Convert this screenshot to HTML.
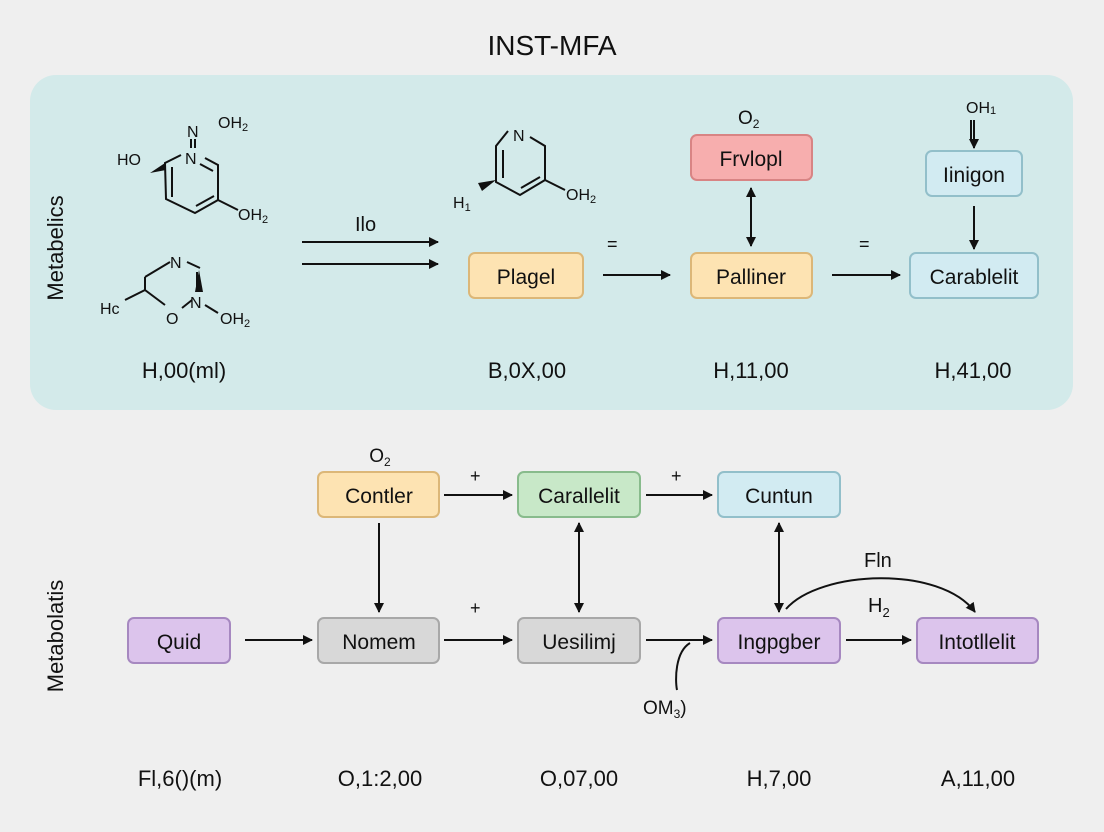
<!DOCTYPE html>
<html><head><meta charset="utf-8"><style>
body{margin:0;background:#efefef;}
svg{display:block;font-family:"Liberation Sans",sans-serif;}
</style></head><body>
<svg width="1104" height="832" viewBox="0 0 1104 832" xmlns="http://www.w3.org/2000/svg">
<defs>
<marker id="a" viewBox="0 0 10 10" refX="9" refY="5" markerWidth="5" markerHeight="5" orient="auto-start-reverse"><path d="M0,0L10,5L0,10z" fill="#111"/></marker>
</defs>
<rect width="1104" height="832" fill="#efefef"/>
<text x="552" y="55" font-size="28" text-anchor="middle" fill="#111">INST-MFA</text>
<rect x="30" y="75" width="1043" height="335" rx="26" fill="#d3eaea"/>
<text transform="translate(63,248) rotate(-90)" font-size="22" text-anchor="middle" fill="#111">Metabelics</text>
<text transform="translate(63,636) rotate(-90)" font-size="22" text-anchor="middle" fill="#111">Metabolatis</text>
<g stroke="#111" stroke-width="2" fill="none">
<path d="M205,158 L218,165 L218,200 L195,213 L166,199 L165,163 L181,155"/>
<path d="M172,167 L172,197 M196,206 L214,196 M200,164 L213,171"/>
<path d="M191,139 L191,148 M195,139 L195,148"/>
<path d="M218,200 L238,210"/>
<path d="M145,277 L170,262 M187,262 L200,268 M197,272 L197,290 M192,300 L182,308 M165,305 L145,290 L145,277 M145,290 L125,300 M205,305 L218,313"/>
<path d="M508,131 L496,146 L496,182 L520,195 L545,180 L545,146 L530,137"/>
<path d="M503,150 L503,178 M521,188 L540,177 M545,180 L565,190"/>
</g>
<path d="M478,183 L496,180 L482,191 Z" fill="#111"/>
<path d="M150,173 L165,163 L166,170 Z" fill="#111"/>
<path d="M199,270 L203,292 L195,292 Z" fill="#111"/>
<g font-size="16" fill="#111">
<text x="187" y="137">N</text><text x="218" y="128">OH<tspan font-size="11" dy="3">2</tspan></text>
<text x="117" y="165">HO</text><text x="185" y="164">N</text>
<text x="238" y="220">OH<tspan font-size="11" dy="3">2</tspan></text>
<text x="170" y="268">N</text><text x="100" y="314">Hc</text><text x="166" y="324">O</text><text x="190" y="308">N</text><text x="220" y="324">OH<tspan font-size="11" dy="3">2</tspan></text>
<text x="513" y="141">N</text><text x="453" y="208">H<tspan font-size="11" dy="3">1</tspan></text><text x="566" y="200">OH<tspan font-size="11" dy="3">2</tspan></text>
<text x="738" y="124" font-size="19">O<tspan font-size="12" dy="4">2</tspan></text>
<text x="966" y="113">OH<tspan font-size="11" dy="1">1</tspan></text>
<text x="380" y="462" font-size="19" text-anchor="middle">O<tspan font-size="12" dy="4">2</tspan></text>
<text x="355" y="231" font-size="20">Ilo</text>
<text x="607" y="250" font-size="18">=</text><text x="859" y="250" font-size="18">=</text>
<text x="470" y="482" font-size="18">+</text><text x="671" y="482" font-size="18">+</text><text x="470" y="614" font-size="18">+</text>
<text x="864" y="567" font-size="20">Fln</text>
<text x="868" y="612" font-size="20">H<tspan font-size="13" dy="5">2</tspan></text>
<text x="643" y="714" font-size="19">OM<tspan font-size="12" dy="4">3</tspan><tspan dy="-4">)</tspan></text>
</g>
<g font-size="22" fill="#111" text-anchor="middle">
<text x="184" y="378">H,00(ml)</text><text x="527" y="378">B,0X,00</text><text x="751" y="378">H,11,00</text><text x="973" y="378">H,41,00</text>
<text x="180" y="786">Fl,6()(m)</text><text x="380" y="786">O,1:2,00</text><text x="579" y="786">O,07,00</text><text x="779" y="786">H,7,00</text><text x="978" y="786">A,11,00</text>
</g>
<g stroke-width="2" font-size="21" text-anchor="middle">
<rect x="469" y="253" width="114" height="45" rx="6" fill="#fde3b2" stroke="#dcb778"/><text x="526" y="284" fill="#111" stroke="none">Plagel</text>
<rect x="691" y="253" width="121" height="45" rx="6" fill="#fde3b2" stroke="#dcb778"/><text x="751" y="284" fill="#111" stroke="none">Palliner</text>
<rect x="691" y="135" width="121" height="45" rx="6" fill="#f7aeae" stroke="#d88484"/><text x="751" y="166" fill="#111" stroke="none">Frvlopl</text>
<rect x="926" y="151" width="96" height="45" rx="6" fill="#d2ebf2" stroke="#92bfca"/><text x="974" y="182" fill="#111" stroke="none">Iinigon</text>
<rect x="910" y="253" width="128" height="45" rx="6" fill="#d2ebf2" stroke="#92bfca"/><text x="974" y="284" fill="#111" stroke="none">Carablelit</text>
<rect x="318" y="472" width="121" height="45" rx="6" fill="#fde3b2" stroke="#dcb778"/><text x="379" y="503" fill="#111" stroke="none">Contler</text>
<rect x="518" y="472" width="122" height="45" rx="6" fill="#c8e8c8" stroke="#88bb8c"/><text x="579" y="503" fill="#111" stroke="none">Carallelit</text>
<rect x="718" y="472" width="122" height="45" rx="6" fill="#d2ebf2" stroke="#92bfca"/><text x="779" y="503" fill="#111" stroke="none">Cuntun</text>
<rect x="128" y="618" width="102" height="45" rx="6" fill="#dcc4ec" stroke="#a688c0"/><text x="179" y="649" fill="#111" stroke="none">Quid</text>
<rect x="318" y="618" width="121" height="45" rx="6" fill="#d8d8d8" stroke="#a8a8a8"/><text x="379" y="649" fill="#111" stroke="none">Nomem</text>
<rect x="518" y="618" width="122" height="45" rx="6" fill="#d8d8d8" stroke="#a8a8a8"/><text x="579" y="649" fill="#111" stroke="none">Uesilimj</text>
<rect x="718" y="618" width="122" height="45" rx="6" fill="#dcc4ec" stroke="#a688c0"/><text x="779" y="649" fill="#111" stroke="none">Ingpgber</text>
<rect x="917" y="618" width="121" height="45" rx="6" fill="#dcc4ec" stroke="#a688c0"/><text x="977" y="649" fill="#111" stroke="none">Intotllelit</text>
</g>
<g stroke="#111" stroke-width="2" fill="none" marker-end="url(#a)">
<path d="M302,242 H438"/><path d="M302,264 H438"/>
<path d="M603,275 H670"/><path d="M832,275 H900"/>
<path d="M751,188 V246" marker-start="url(#a)"/>
<path d="M974,120 V148"/><path d="M974,206 V249"/>
<path d="M444,495 H512"/><path d="M646,495 H712"/>
<path d="M379,523 V612"/><path d="M579,523 V612" marker-start="url(#a)"/>
<path d="M779,523 V612" marker-start="url(#a)"/>
<path d="M245,640 H312"/><path d="M444,640 H512"/><path d="M646,640 H712"/><path d="M846,640 H911"/>
<path d="M786,609 C820,570 940,565 975,612"/>
<path d="M690,643 C675,652 675,680 677,690" marker-end="none"/>
</g>
<path d="M971,120 V140" stroke="#111" stroke-width="2"/>
</svg>
</body></html>
